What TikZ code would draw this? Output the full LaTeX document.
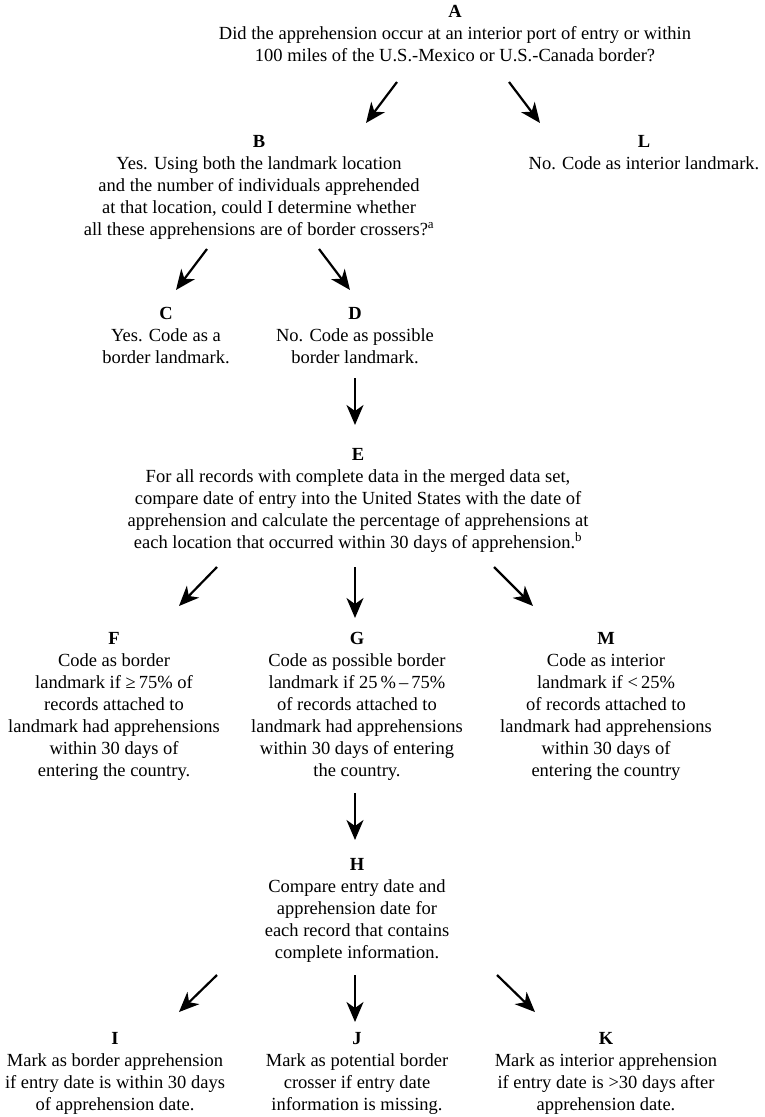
\documentclass[tikz,border=0pt]{standalone}
\usepackage{fontspec}
\setmainfont{Liberation Serif}
\usetikzlibrary{arrows.meta}
\begin{document}
\begin{tikzpicture}[x=1pt,y=-1pt,
  every node/.style={inner sep=0pt,outer sep=0pt},
  txt/.style={align=center,font=\fontsize{18.5}{22}\selectfont},
  arr/.style={line width=2.2pt,-{Stealth[length=20pt,width=17pt,inset=6pt]}}]
\useasboundingbox (0,0) rectangle (764,1117);
\node[txt] (A) at (455,34) {\textbf{A}\\Did the apprehension occur at an interior port of entry or within\\100 miles of the U.S.-Mexico or U.S.-Canada border?};
\node[txt] (B) at (259,187) {\textbf{B}\\Yes. Using both the landmark location\\and the number of individuals apprehended\\at that location, could I determine whether\\all these apprehensions are of border crossers?\textsuperscript{a}};
\node[txt] (L) at (644,153) {\textbf{L}\\No. Code as interior landmark.};
\node[txt] (C) at (166,336) {\textbf{C}\\Yes. Code as a\\border landmark.};
\node[txt] (D) at (355,336) {\textbf{D}\\No. Code as possible\\border landmark.};
\node[txt] (E) at (358,500) {\textbf{E}\\For all records with complete data in the merged data set,\\compare date of entry into the United States with the date of\\apprehension and calculate the percentage of apprehensions at\\each location that occurred within 30 days of apprehension.\textsuperscript{b}};
\node[txt] (F) at (114,706) {\textbf{F}\\Code as border\\landmark if ≥\,75\% of\\records attached to\\landmark had apprehensions\\within 30 days of\\entering the country.};
\node[txt] (G) at (357,706) {\textbf{G}\\Code as possible border\\landmark if 25\,\%\,–\,75\%\\of records attached to\\landmark had apprehensions\\within 30 days of entering\\the country.};
\node[txt] (M) at (606,706) {\textbf{M}\\Code as interior\\landmark if <\,25\%\\of records attached to\\landmark had apprehensions\\within 30 days of\\entering the country};
\node[txt] (H) at (357,910) {\textbf{H}\\Compare entry date and\\apprehension date for\\each record that contains\\complete information.};
\node[txt] (I) at (115,1073) {\textbf{I}\\Mark as border apprehension\\if entry date is within 30 days\\of apprehension date.};
\node[txt] (J) at (357,1073) {\textbf{J}\\Mark as potential border\\crosser if entry date\\information is missing.};
\node[txt] (K) at (606,1073) {\textbf{K}\\Mark as interior apprehension\\if entry date is >30 days after\\apprehension date.};
% arrow ends
\coordinate (ab1) at (397,82);  \coordinate (ab2) at (366,123);
\coordinate (al1) at (509,82);  \coordinate (al2) at (540,123);
\coordinate (bc1) at (207,249); \coordinate (bc2) at (176,290);
\coordinate (bd1) at (319,249); \coordinate (bd2) at (350,290);
\coordinate (de1) at (355,378); \coordinate (de2) at (355,425);
\coordinate (ef1) at (217,567); \coordinate (ef2) at (179,606);
\coordinate (eg1) at (355,567); \coordinate (eg2) at (355,618);
\coordinate (em1) at (494,567); \coordinate (em2) at (533,606);
\coordinate (gh1) at (355,793); \coordinate (gh2) at (355,840);
\coordinate (hi1) at (217,975); \coordinate (hi2) at (179,1012);
\coordinate (hj1) at (355,975); \coordinate (hj2) at (355,1022);
\coordinate (hk1) at (497,975); \coordinate (hk2) at (535,1012);
\draw[arr] (ab1) -- (ab2);
\draw[arr] (al1) -- (al2);
\draw[arr] (bc1) -- (bc2);
\draw[arr] (bd1) -- (bd2);
\draw[arr] (de1) -- (de2);
\draw[arr] (ef1) -- (ef2);
\draw[arr] (eg1) -- (eg2);
\draw[arr] (em1) -- (em2);
\draw[arr] (gh1) -- (gh2);
\draw[arr] (hi1) -- (hi2);
\draw[arr] (hj1) -- (hj2);
\draw[arr] (hk1) -- (hk2);
\end{tikzpicture}
\end{document}
